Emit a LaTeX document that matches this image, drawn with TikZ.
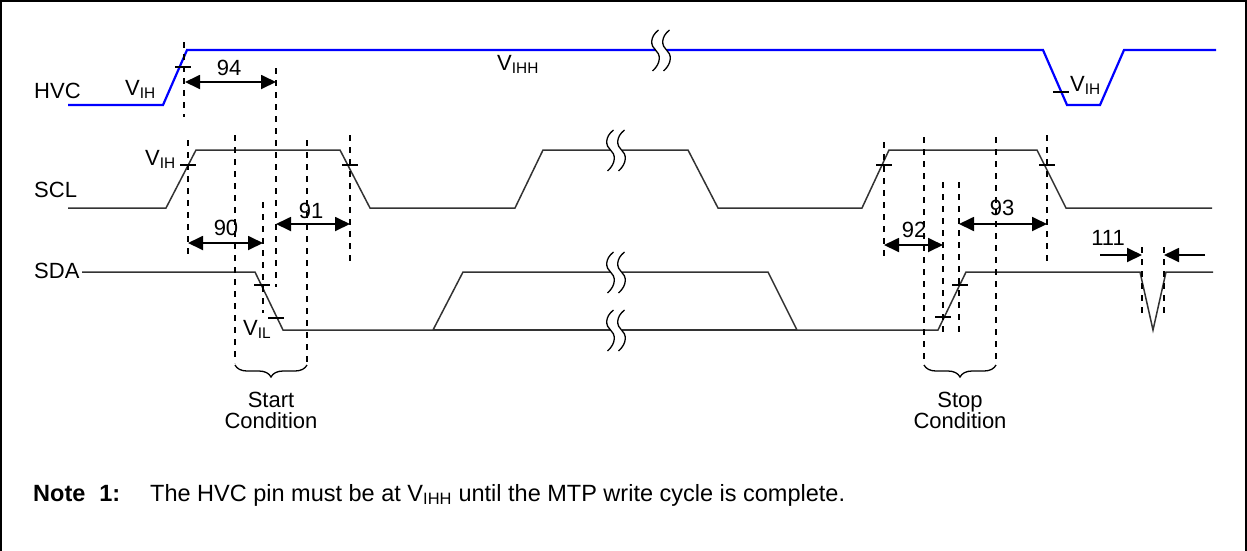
\documentclass[tikz,border=0pt]{standalone}
\usepackage{fontspec}
\setmainfont{Liberation Sans}
\usetikzlibrary{arrows.meta}
\usetikzlibrary{decorations.pathreplacing}

\begin{document}
\begin{tikzpicture}[x=1pt,y=-1pt,
		sig/.style={line width=1.5pt,black!80},
		hvcsig/.style={line width=2.2pt,blue},
		guide/.style={line width=1.8pt,dash pattern=on 6pt off 6pt},
		vmark/.style={line width=1.8pt},
		dim/.style={line width=1.8pt,{Triangle[length=15pt,width=14pt]}-{Triangle[length=15pt,width=14pt]}},
		dimin/.style={line width=1.8pt,-{Triangle[length=15pt,width=14pt]}},
		lbl/.style={inner sep=0pt,font=\fontsize{22}{21}\selectfont},
		cond/.style={decorate,decoration={brace,mirror,amplitude=12pt},line width=1.3pt}]
		\useasboundingbox (0,0) rectangle (1247,550);
		\draw[line width=2pt] (1,552) -- (1,1) -- (1246,1) -- (1246,552);
		
		% signal names
		\node[lbl,anchor=base west] (hvc) at (34,98) {HVC};
		\node[lbl,anchor=base west] (scl) at (34,197) {SCL};
		\node[lbl,anchor=base west] (sda) at (34,278) {SDA};
		
		% waveforms
		\draw[hvcsig] (68,105) -- (163,105) -- (187,50) -- (1043,50) -- (1067,105) -- (1100,105) -- (1124,50) -- (1216,50);
		\draw[sig] (68,208) -- (166,208) -- (196,150) -- (340,150) -- (370,208) -- (515,208) -- (543,150) -- (688,150) -- (718,208) -- (862,208) -- (889,150) -- (1037,150) -- (1066,208) -- (1212,208);
		\draw[sig] (82,272) -- (255,272) -- (283,330) -- (433,330) -- (463,272) -- (768,272) -- (797,330) -- (938,330) -- (966,272) -- (1140,272) -- (1153,330) -- (1166,272) -- (1213,272);
		\draw[sig] (433,330) -- (797,330);
		
		% breaks
		\foreach \bx/\by in {661/50,616/150,616/272,616/330}{
			\fill[white] ({\bx-5.5},{\by-3}) rectangle ({\bx+5.5},{\by+3});
			\foreach \c in {\bx-5.5,\bx+5.5}
				\draw[line width=1.3pt] ({\c+3},{\by-20}) .. controls ({\c-6},{\by-13}) and ({\c-5},{\by-4}) .. ({\c},{\by}) .. controls ({\c+5},{\by+4}) and ({\c+6},{\by+13}) .. ({\c-3},{\by+21});
		}
		
		% timing guides
		\foreach \gx/\ga/\gb in {184/42/117,188/140/257,235/135/363,263/202/313,276/68/287,307/140/363,350/135/262,
			884/142/257,924/137/365,943/182/332,959/182/332,996/137/365,1047/135/262,1142/247/317,1164/247/317}
			\draw[guide] (\gx,\ga) -- (\gx,\gb);
		
		% level marks
		\foreach \mx/\my in {183/67,1061/92,188/165,350/165,884/165,1047/165,262/285,276/318,943/317,960/285}
			\draw[vmark] ({\mx-8},\my) -- ({\mx+8},\my);
		
		% level labels
		\node[lbl,anchor=base west] (vih1) at (125,95) {V\textsubscript{IH}};
		\node[lbl,anchor=base west] (vih2) at (145,165) {V\textsubscript{IH}};
		\node[lbl,anchor=base west] (vih3) at (1070,91) {V\textsubscript{IH}};
		\node[lbl,anchor=base west] (vihh) at (497,70) {V\textsubscript{IHH}};
		\node[lbl,anchor=base west] (vil) at (243,335) {V\textsubscript{IL}};
		
		% timing parameters
		\draw[dim] (185,82) -- (276,82);
		\node[lbl,anchor=base] (t94) at (229,75) {94};
		\draw[dim] (188,243) -- (263,243);
		\node[lbl,anchor=base] (t90) at (226,235) {90};
		\draw[dim] (276,224) -- (350,224);
		\node[lbl,anchor=base] (t91) at (311,218) {91};
		\draw[dim] (884,245) -- (943,245);
		\node[lbl,anchor=base] (t92) at (914,237) {92};
		\draw[dim] (959,224) -- (1047,224);
		\node[lbl,anchor=base] (t93) at (1002,215) {93};
		\draw[dimin] (1100,255) -- (1142,255);
		\draw[dimin] (1205,255) -- (1164,255);
		\node[lbl,anchor=base] (t111) at (1108,245) {111};
		
		% start and stop
		\draw[cond] (235,365) -- (307,365);
		\node[lbl,anchor=base,align=center] (start) at (271,428) {Start\\Condition};
		\draw[cond] (924,365) -- (996,365);
		\node[lbl,anchor=base,align=center] (stop) at (960,428) {Stop\\Condition};
		
		% note
		\node[inner sep=0pt,anchor=base west,font=\fontsize{23.5}{24}\bfseries] (note) at (33,501) {Note\hspace{14pt}1:};
		\node[inner sep=0pt,anchor=base west,font=\fontsize{23.5}{24}\selectfont] (notetext) at (150,501) {The HVC pin must be at V\textsubscript{IHH} until the MTP write cycle is complete.};
		
		\end{tikzpicture}
\end{document}
